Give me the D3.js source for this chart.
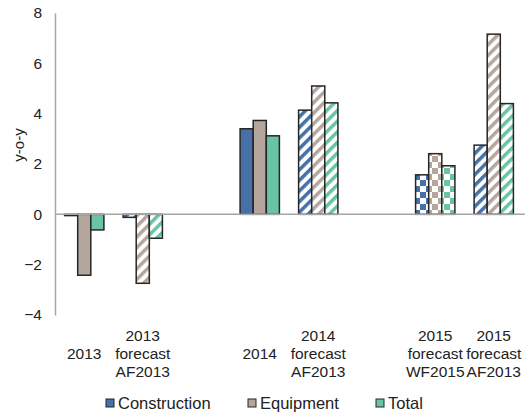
<!DOCTYPE html>
<html>
<head>
<meta charset="utf-8">
<script src="https://cdn.jsdelivr.net/npm/d3@7"></script>
<style>
  body { margin: 0; background: #fff; }
  svg text { font-family: "Liberation Sans", Arial, sans-serif; fill: #222; }
</style>
</head>
<body>
<svg id="chart" width="525" height="417"></svg>
<script>
// categories (gap entries are the empty slots between years)
const categories = ["2013", "2013 forecast AF2013", "gap1", "2014", "2014 forecast AF2013", "gap2", "2015 forecast WF2015", "2015 forecast AF2013"];
const catLabels = [["2013"], ["2013", "forecast", "AF2013"], [], ["2014"], ["2014", "forecast", "AF2013"], [], ["2015", "forecast", "WF2015"], ["2015", "forecast", "AF2013"]];
// fill style per category: solid, stripes (AF2013 forecasts), checks (WF2015 forecast)
const catStyle = ["solid", "stripe", null, "solid", "stripe", null, "check", "stripe"];

const seriesNames = ["Construction", "Equipment", "Total"];
const seriesColors = ["#4570a8", "#b5a69d", "#68c4a3"];

const construction = [-0.05, -0.12, null, 3.4, 4.14, null, 1.57, 2.75];
const equipment    = [-2.42, -2.74, null, 3.73, 5.1, null, 2.41, 7.16];
const total        = [-0.62, -0.95, null, 3.12, 4.43, null, 1.93, 4.4];
const seriesValues = [construction, equipment, total];

const yTicks = [-4, -2, 0, 2, 4, 6, 8];

const svg = d3.select("#chart");
const defs = svg.append("defs");

// patterns for each series
seriesColors.forEach((c, i) => {
    let stripe = defs.append("pattern")
        .attr("id", "stripe" + i)
        .attr("patternUnits", "userSpaceOnUse")
        .attr("width", 7.5).attr("height", 7.5)
        .attr("patternTransform", "rotate(45)");
    stripe.append("rect").attr("width", 7.5).attr("height", 7.5).attr("fill", "#fff");
    stripe.append("rect").attr("width", 3.5).attr("height", 7.5).attr("fill", c);

    let check = defs.append("pattern")
        .attr("id", "check" + i)
        .attr("patternUnits", "userSpaceOnUse")
        .attr("width", 12).attr("height", 12);
    check.append("rect").attr("width", 12).attr("height", 12).attr("fill", "#fff");
    check.append("rect").attr("width", 6).attr("height", 6).attr("fill", c);
    check.append("rect").attr("x", 6).attr("y", 6).attr("width", 6).attr("height", 6).attr("fill", c);
});

const x = d3.scaleBand().domain(categories).range([55, 523]);
const xs = d3.scaleBand().domain(seriesNames).range([9.6, x.bandwidth() - 9.6]);
const y = d3.scaleLinear().domain([-4, 8]).range([315, 13]);

// y axis
const yAxis = svg.append("g")
    .attr("transform", "translate(55,0)")
    .call(d3.axisLeft(y).tickValues(yTicks).tickSize(0).tickPadding(13));
yAxis.select(".domain").attr("stroke", "#a6a6a6").attr("stroke-width", 1.5);
yAxis.selectAll("text").attr("font-size", 15.5).style("font-family", "Liberation Sans, Arial, sans-serif").attr("fill", "#222");

svg.append("text")
    .attr("transform", "translate(19,145) rotate(-90)")
    .attr("text-anchor", "middle")
    .attr("dy", "0.35em")
    .attr("font-size", 15)
    .text("y-o-y");

// bars
const bars = [];
categories.forEach((c, ci) => {
    seriesNames.forEach((s, si) => {
        const v = seriesValues[si][ci];
        if (v == null) return;
        bars.push({ cat: c, ci, series: s, si, value: v });
    });
});

svg.append("g").selectAll("rect")
    .data(bars)
    .enter().append("rect")
    .attr("x", d => x(d.cat) + xs(d.series))
    .attr("width", xs.bandwidth())
    .attr("y", d => y(Math.max(0, d.value)))
    .attr("height", d => Math.abs(y(d.value) - y(0)))
    .attr("fill", d => {
        const st = catStyle[d.ci];
        if (st === "stripe") return "url(#stripe" + d.si + ")";
        if (st === "check") return "url(#check" + d.si + ")";
        return seriesColors[d.si];
    })
    .attr("stroke", "#262626")
    .attr("stroke-width", 1.5);

// zero line
svg.append("line")
    .attr("x1", 55).attr("x2", 525)
    .attr("y1", y(0)).attr("y2", y(0))
    .attr("stroke", "#a6a6a6").attr("stroke-width", 1.5);

// category labels
const labels = svg.append("g").selectAll("text")
    .data(categories)
    .enter().append("text")
    .attr("text-anchor", "middle")
    .attr("font-size", 15.5)
    .attr("x", d => x(d) + x.bandwidth() / 2)
    .attr("y", (d, i) => 353 - (catLabels[i].length - 1) * 9 + 5.5);
labels.selectAll("tspan")
    .data((d, i) => catLabels[i])
    .enter().append("tspan")
    .attr("x", function () { return this.parentNode.getAttribute("x"); })
    .attr("dy", (d, i) => i === 0 ? 0 : 18)
    .text(d => d);

// legend
const legendX = [106, 248, 376];
const legend = svg.append("g").selectAll("g")
    .data(seriesNames)
    .enter().append("g")
    .attr("transform", (d, i) => "translate(" + legendX[i] + ",403)");
legend.append("rect")
    .attr("x", 0).attr("y", -4)
    .attr("width", 8).attr("height", 8)
    .attr("fill", (d, i) => seriesColors[i])
    .attr("stroke", "#262626").attr("stroke-width", 1);
legend.append("text")
    .attr("x", 12).attr("dy", "0.35em")
    .attr("font-size", 16.5)
    .text(d => d);
</script>
</body>
</html>
